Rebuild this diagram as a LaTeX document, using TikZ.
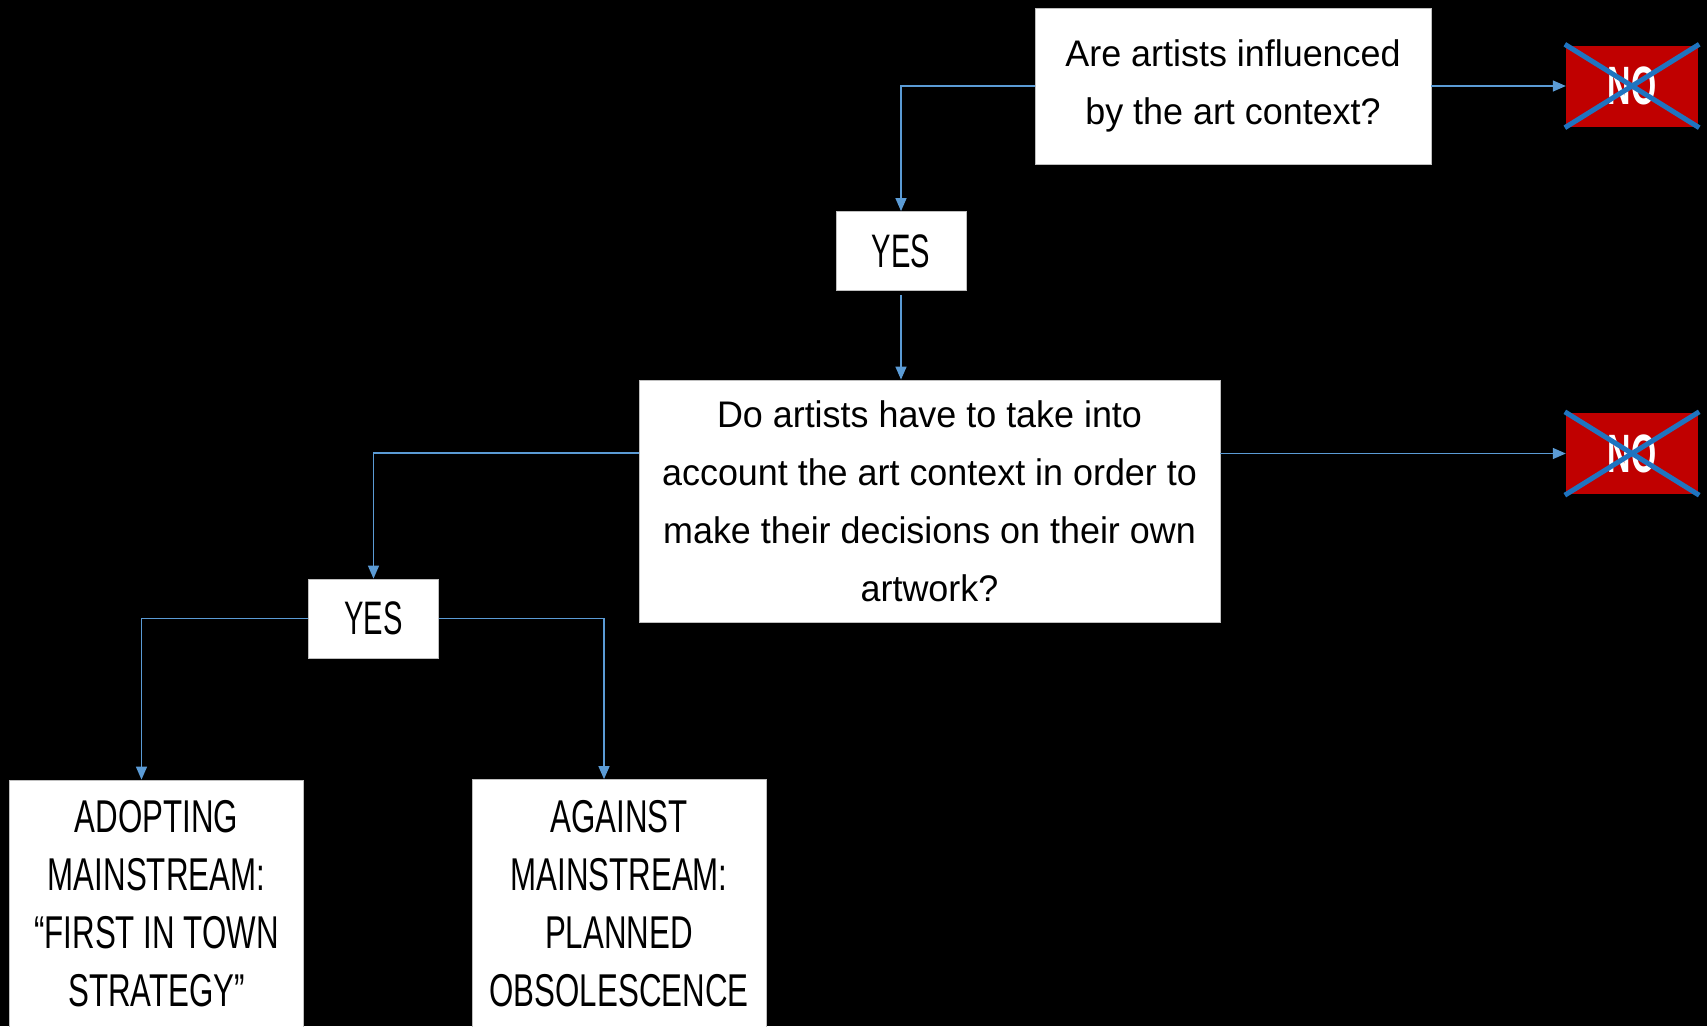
\documentclass[tikz,border=0pt]{standalone}
\usepackage{fontspec}
\setmainfont{Liberation Sans}
\newfontfamily\mixfont[FakeStretch=0.97]{Liberation Sans}
\newfontfamily\capfont[FakeStretch=0.68]{Liberation Sans}
\newfontfamily\yesfont[FakeStretch=0.62]{Liberation Sans}
\newfontfamily\nofont[FakeStretch=0.6]{Liberation Sans}
\usetikzlibrary{arrows.meta}
\definecolor{linkblue}{HTML}{5B9BD5}
\definecolor{nored}{HTML}{C00000}
\definecolor{crossblue}{HTML}{1F74C0}
\tikzset{
  qbox/.style={draw=black!25, fill=white, line width=0.8pt, align=center, inner sep=0pt,
    font=\mixfont\fontsize{37}{58}\selectfont},
  yesbox/.style={draw=black!25, fill=white, line width=0.8pt, align=center, inner sep=0pt,
    minimum width=130pt, minimum height=79pt, font=\yesfont\fontsize{47}{58}\selectfont},
  endbox/.style={draw=black!25, fill=white, line width=0.8pt, align=center, inner sep=0pt,
    minimum width=294pt, minimum height=248pt, font=\capfont\fontsize{46}{58}\selectfont},
  nobox/.style={fill=nored, text=white, inner sep=0pt, minimum width=132pt, minimum height=81pt,
    font=\nofont\bfseries\fontsize{54}{58}\selectfont},
  link/.style={draw=linkblue, line width=1.4pt, -{Triangle[length=13pt,width=11pt]}},
  cross/.style={draw=crossblue, line width=5pt},
}
\begin{document}
\begin{tikzpicture}[x=1pt,y=-1pt]
  \fill[black] (0,0) rectangle (1707,1026);
  \useasboundingbox (0,0) rectangle (1707,1026);
  \begin{scope}
    \clip (0,0) rectangle (1707,1026);

    % questions
    \node[qbox, minimum width=396pt, minimum height=156pt] (q1) at (1233,86)
      {Are artists influenced\\by the art context?};
    \node[qbox, minimum width=581pt, minimum height=242pt] (q2) at (929.5,501)
      {Do artists have to take into\\account the art context in order to\\make their decisions on their own\\artwork?};

    % answers
    \node[yesbox] (yes1) at (901,251) {YES};
    \node[yesbox] (yes2) at (373.5,618.5) {YES};

    % rejected answers
    \node[nobox] (no1) at (1632,86) {NO};
    \node[nobox] (no2) at (1632,453.5) {NO};
    \foreach \n in {no1,no2}{
      \draw[cross] ([shift={(-1pt,1pt)}]\n.north west) -- ([shift={(1pt,-1pt)}]\n.south east);
      \draw[cross] ([shift={(1pt,1pt)}]\n.north east) -- ([shift={(-1pt,-1pt)}]\n.south west);
    }

    % strategies
    \node[endbox] (adopt) at (156.5,904)
      {ADOPTING\\MAINSTREAM:\\\char"201C FIRST IN TOWN\\STRATEGY\char"201D};
    \node[endbox] (against) at (619,903.5)
      {AGAINST\\MAINSTREAM:\\PLANNED\\OBSOLESCENCE};

    % connectors
    \draw[link] (q1.west) -| (yes1.north);
    \draw[link] (q1.east) -- (no1.west);
    \draw[link] ([yshift=-4pt]yes1.south) -- (yes1.south |- q2.north);
    \draw[link] ([yshift=48pt]q2.west) -| (yes2.north);
    \draw[link] (q2.east |- no2.west) -- (no2.west);
    \draw[link] (yes2.west) -| ([xshift=-15pt]adopt.north);
    \draw[link] (yes2.east) -| ([xshift=-15pt]against.north);
  \end{scope}
\end{tikzpicture}
\end{document}
